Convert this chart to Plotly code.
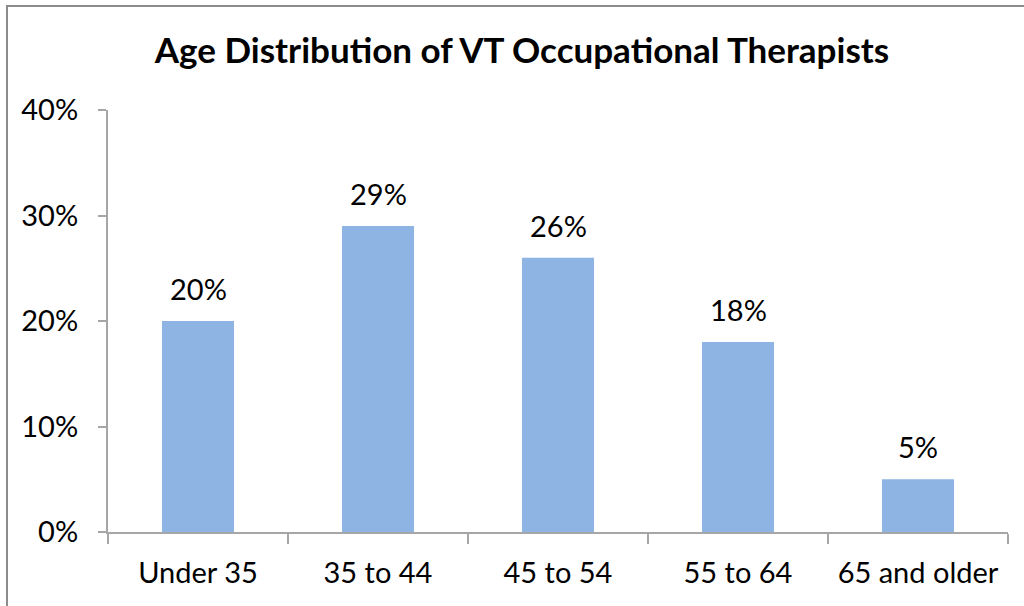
import plotly.graph_objects as go

categories = ["Under 35", "35 to 44", "45 to 54", "55 to 64", "65 and older"]
values = [0.20, 0.29, 0.26, 0.18, 0.05]
y_ticks = [0, 0.1, 0.2, 0.3, 0.4]
y_tick_labels = ["0%", "10%", "20%", "30%", "40%"]
title_text = "Age Distribution of VT Occupational Therapists"

FONT = "Lato, Carlito, Calibri, sans-serif"
AXIS_COLOR = "#A6A6A6"
LABEL_SIZE = 29

fig = go.Figure(
    go.Bar(
        x=categories,
        y=values,
        marker=dict(color="#8DB4E3", line=dict(width=0)),
        width=0.4,
        hoverinfo="x+y",
    )
)

# data labels above each bar
for c, v in zip(categories, values):
    fig.add_annotation(
        x=c, y=v, xref="x", yref="y",
        text=f"{round(v * 100)}%",
        showarrow=False,
        yanchor="bottom",
        yshift=13,
        font=dict(family=FONT, size=LABEL_SIZE, color="black"),
    )

fig.update_layout(
    width=1024,
    height=606,
    margin=dict(l=108, r=16, t=110, b=74, autoexpand=False),
    paper_bgcolor="white",
    plot_bgcolor="white",
    showlegend=False,
    title=dict(
        text=f"<b>{title_text}</b>",
        font=dict(family=FONT, size=35, color="black"),
        x=522 / 1024,
        xanchor="center",
        xref="container",
        y=1 - 51 / 606,
        yref="container",
        yanchor="middle",
    ),
    xaxis=dict(
        showline=True,
        linecolor=AXIS_COLOR,
        linewidth=2,
        ticks="outside",
        tickson="boundaries",
        ticklen=10,
        tickwidth=2,
        tickcolor=AXIS_COLOR,
        tickfont=dict(family=FONT, size=LABEL_SIZE, color="black"),
        ticklabelstandoff=14,
        showgrid=False,
        automargin=False,
    ),
    yaxis=dict(
        range=[0, 0.4],
        tickvals=y_ticks,
        ticktext=y_tick_labels,
        showline=True,
        linecolor=AXIS_COLOR,
        linewidth=2,
        ticks="outside",
        ticklen=8,
        tickwidth=2,
        tickcolor=AXIS_COLOR,
        tickfont=dict(family=FONT, size=LABEL_SIZE, color="black"),
        ticklabelstandoff=14,
        showgrid=False,
        zeroline=False,
        automargin=False,
    ),
)

# outer chart border (left and top edges visible)
fig.add_shape(
    type="rect",
    xref="paper", yref="paper",
    x0=(7 - 108) / 900, x1=(1040 - 108) / 900,
    y0=(532 - 620) / 422, y1=(532 - 6) / 422,
    line=dict(color="#8C8C8C", width=2),
    fillcolor="rgba(0,0,0,0)",
    layer="below",
)

fig.write_html(
    "out.html",
    config={"displayModeBar": False},
    post_script="document.body.style.margin='0';document.body.style.overflow='hidden';",
)
